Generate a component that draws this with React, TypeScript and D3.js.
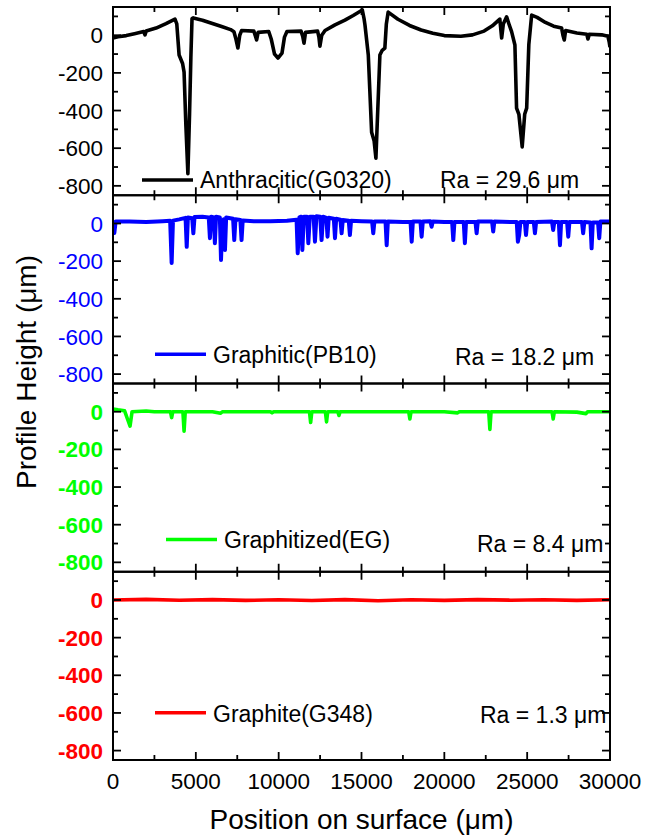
import React from 'react';
import * as d3 from 'd3';

// profile data, [position µm, height µm]
const anthracitic: [number, number][] = [
  [0, -15], [300, -8], [800, -2], [1300, 8], [1850, 20], [1930, 2], [2000, 22], [2600, 38], [3200, 62], [3740, 86],
  [3850, 60], [3990, -105], [4200, -150], [4290, -196], [4400, -480], [4520, -735], [4620, -420], [4700, -120],
  [4770, 88], [4850, 92], [5400, 80], [6000, 62], [6600, 45], [7100, 30], [7300, 19], [7420, -20], [7540, -68],
  [7650, 0], [7760, 25], [8500, 22], [8600, -5], [8670, -25], [8760, 15], [9400, 20], [9550, -20], [9750, -100],
  [9960, -121], [10200, -95], [10350, -10], [10500, 20], [11350, 22], [11450, -5], [11530, -42], [11620, 15],
  [12350, 22], [12430, -10], [12490, -58], [12600, 0], [12800, 25], [13400, 55], [14000, 80], [14500, 105],
  [15050, 134], [15150, 90], [15210, 54], [15410, -105], [15610, -515], [15760, -560], [15870, -653],
  [15980, -400], [16110, -105], [16250, -80], [16410, -68], [16500, 60], [16610, 123], [17200, 85], [17900, 52],
  [18600, 28], [19310, 11], [20000, -2], [21000, -5], [21700, 2], [22400, 22], [22900, 50], [23350, 86],
  [23460, -15], [23560, 60], [23760, 98], [23900, 60], [24060, 19], [24260, -52], [24360, -387], [24500, -420],
  [24700, -593], [24850, -420], [24970, -387], [25100, -50], [25270, 107], [25600, 95], [26100, 68],
  [26600, 48], [27080, 38], [27160, 0], [27240, -25], [27320, 25], [28000, 12], [28600, 5], [28670, -20],
  [28750, 5], [29500, 2], [29870, -5], [29950, -35], [30000, -63],
];

const graphitic: [number, number][] = [
  [0, 10], [80, -50], [160, 10], [1000, 10], [2000, 8], [3000, 12], [3450, 14], [3540, -210], [3620, 15],
  [4000, 22], [4380, 30], [4450, -124], [4520, 32], [4780, 28], [4850, -52], [4920, 34], [5400, 36], [5780, 32],
  [5850, -78], [5920, 36], [6080, 32], [6150, -105], [6220, 36], [6450, 32], [6520, -194], [6600, 12],
  [6680, 22], [6760, -141], [6830, 32], [7250, 25], [7320, -88], [7390, 22], [7690, 18], [7760, -88],
  [7830, 16], [8500, 12], [9500, 12], [10500, 15], [11080, 20], [11150, -158], [11250, 32], [11360, 36],
  [11430, -141], [11520, 36], [11720, 36], [11790, -105], [11880, 36], [12110, 36], [12190, -97], [12280, 38],
  [12510, 36], [12590, -88], [12680, 36], [12880, 30], [12950, -70], [13020, 30], [13330, 25], [13400, -78],
  [13470, 25], [13730, 20], [13800, -52], [13870, 18], [14230, 15], [14300, -61], [14370, 15], [15000, 12],
  [15640, 10], [15710, -52], [15780, 10], [16450, 10], [16520, -115], [16590, 10], [17500, 8], [17960, 8],
  [18030, -97], [18100, 10], [18560, 10], [18630, -70], [18700, 10], [19160, 12], [19230, -17], [19300, 10],
  [20000, 8], [20470, 8], [20540, -88], [20610, 8], [21170, 8], [21240, -105], [21310, 8], [21880, 8],
  [21950, -52], [22020, 10], [22880, 10], [22950, -43], [23020, 10], [24000, 8], [24370, 8], [24440, -97],
  [24520, -60], [24590, 8], [24860, 8], [24930, -61], [25000, 8], [25400, 8], [25470, -52], [25540, 8],
  [26500, 10], [26570, -35], [26640, 8], [26910, 8], [26980, -115], [27050, 8], [27410, 8], [27480, -70],
  [27550, 8], [28310, 8], [28380, -52], [28450, 8], [28820, 5], [28890, -132], [28960, 5], [29280, 5],
  [29350, -78], [29420, 10], [30000, 10],
];

const graphitized: [number, number][] = [
  [0, 15], [300, 10], [700, 5], [880, -40], [1030, -76], [1150, 0], [2000, 4], [2500, 0], [3470, 0],
  [3540, -31], [3610, 0], [4220, 0], [4290, -103], [4360, 0], [6000, 0], [6500, -8], [6600, 0], [9500, 0],
  [9600, -6], [9700, 0], [11860, 0], [11930, -57], [12000, 0], [12820, 0], [12890, -54], [12960, 0],
  [13570, 0], [13640, -20], [13710, 0], [15000, 0], [17850, 0], [17920, -38], [17990, 0], [20000, 0],
  [20800, -6], [20900, 0], [22680, 0], [22750, -94], [22820, 0], [24000, 0], [26500, 0], [26570, -38],
  [26640, 0], [28000, -2], [28550, -10], [28650, 0], [30000, 0],
];

const graphite: [number, number][] = [
  [0, 0], [2000, 3], [4000, -1], [6000, 2], [8000, -2], [10000, 1], [12000, -3], [14000, 2], [16000, -4],
  [18000, 1], [20000, -2], [22000, 2], [24000, -1], [26000, 1], [28000, -2], [30000, 1],
];

const seriesNames = ['Anthracitic(G0320)', 'Graphitic(PB10)', 'Graphitized(EG)', 'Graphite(G348)'];
const raLabels = ['Ra = 29.6 μm', 'Ra = 18.2 μm', 'Ra = 8.4 μm', 'Ra = 1.3 μm'];
const seriesData = [anthracitic, graphitic, graphitized, graphite];
const seriesColors = ['#000000', '#0000ff', '#00ff00', '#ff0000'];

const xTicks = [0, 5000, 10000, 15000, 20000, 25000, 30000];
const xMinorTicks = [2500, 7500, 12500, 17500, 22500, 27500];
const yTicks = [0, -200, -400, -600, -800];
const yMinorTicks = [100, -100, -300, -500, -700];

// layout
const W = 665;
const H = 838;
const left = 113;
const right = 610;
const top = 7;
const panelH = 188.25;
const font = '"Liberation Sans", Arial, sans-serif';

// legend placement per panel: [lineX1, lineX2, lineY, textX, textBaseline, raX, raBaseline] relative to panel top
const legendPos = [
  [142, 193, 173, 200, 181, 440, 181],
  [155, 206, 159, 213, 168, 455, 170],
  [166, 217, 156, 224, 164, 477, 168],
  [155, 206, 141, 213, 150, 480, 151],
];

const x = d3.scaleLinear().domain([0, 30000]).range([left, right]);

const Panel = ({ i }: { i: number }) => {
  const y0 = top + i * panelH;
  const y = d3.scaleLinear().domain([-850, 150]).range([y0 + panelH, y0]);
  const line = d3.line<[number, number]>()
    .x(d => x(d[0]))
    .y(d => y(d[1]));
  const color = seriesColors[i];
  const lp = legendPos[i];
  const bottom = y0 + panelH;
  const tickStyle = { stroke: '#000', strokeWidth: 1.8 };
  return (
    <g>
      <clipPath id={`clip${i}`}>
        <rect x={left} y={y0} width={right - left} height={panelH} />
      </clipPath>
      <path d={line(seriesData[i]) || ''} fill="none" stroke={color} strokeWidth={i === 1 ? 4 : 3.6}
        strokeLinejoin="round" clipPath={`url(#clip${i})`} />
      {xTicks.map(t => (
        <g key={'xt' + t}>
          <line x1={x(t)} x2={x(t)} y1={bottom} y2={bottom - 8} {...tickStyle} />
          <line x1={x(t)} x2={x(t)} y1={y0} y2={y0 + 8} {...tickStyle} />
        </g>
      ))}
      {xMinorTicks.map(t => (
        <g key={'xm' + t}>
          <line x1={x(t)} x2={x(t)} y1={bottom} y2={bottom - 5} {...tickStyle} />
          <line x1={x(t)} x2={x(t)} y1={y0} y2={y0 + 5} {...tickStyle} />
        </g>
      ))}
      {yTicks.map(t => (
        <g key={'yt' + t}>
          <line x1={left} x2={left + 8} y1={y(t)} y2={y(t)} {...tickStyle} />
          <line x1={right} x2={right - 8} y1={y(t)} y2={y(t)} {...tickStyle} />
          <text x={103} y={y(t)} dy="0.36em" textAnchor="end" fontSize={22.5} fill={color}
            fontWeight={i >= 2 ? 700 : 400} fontFamily={font}>{t}</text>
        </g>
      ))}
      {yMinorTicks.map(t => (
        <g key={'ym' + t}>
          <line x1={left} x2={left + 5} y1={y(t)} y2={y(t)} {...tickStyle} />
          <line x1={right} x2={right - 5} y1={y(t)} y2={y(t)} {...tickStyle} />
        </g>
      ))}
      <rect x={left} y={y0} width={right - left} height={panelH} fill="none" stroke="#000" strokeWidth={2} />
      <line x1={lp[0]} x2={lp[1]} y1={y0 + lp[2]} y2={y0 + lp[2]} stroke={color} strokeWidth={3.6} />
      <text x={lp[3]} y={y0 + lp[4]} fontSize={23} fontFamily={font} fill="#000">{seriesNames[i]}</text>
      <text x={lp[5]} y={y0 + lp[6]} fontSize={23} fontFamily={font} fill="#000">{raLabels[i]}</text>
    </g>
  );
};

export default function App() {
  const bottom = top + 4 * panelH;
  return (
    <svg width={W} height={H} style={{ position: 'absolute', left: 0, top: 0, background: '#fff' }}>
      {seriesData.map((_, i) => <Panel key={i} i={i} />)}
      {xTicks.map(t => (
        <text key={t} x={x(t)} y={bottom + 29} textAnchor="middle" fontSize={22.5} fontFamily={font}>{t}</text>
      ))}
      <text x={(left + right) / 2} y={829} textAnchor="middle" fontSize={28} fontFamily={font}>
        Position on surface (μm)
      </text>
      <text transform="translate(36,372) rotate(-90)" textAnchor="middle" fontSize={28} fontFamily={font}>
        Profile Height (μm)
      </text>
    </svg>
  );
}
